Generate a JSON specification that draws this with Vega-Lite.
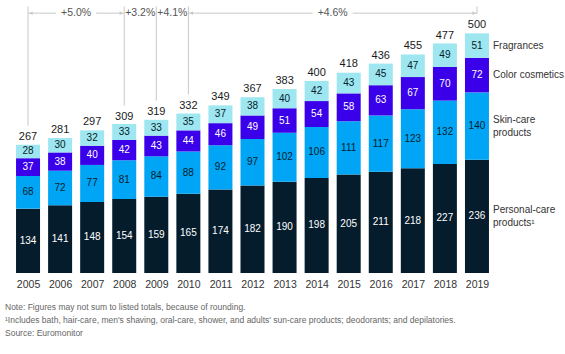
{
  "$schema": "https://vega.github.io/schema/vega-lite/v6.json",
  "width": 491,
  "height": 268,
  "autosize": {"type": "none"},
  "padding": {"left": 7, "top": 5, "right": 67, "bottom": 81},
  "background": "white",
  "config": {
    "font": "Liberation Sans",
    "view": {"stroke": null},
    "axisX": {"labelOverlap": false, "title": null, "domain": false, "ticks": false, "grid": false, "labelPadding": 6, "labelFontSize": 10.5, "labelColor": "#333333", "labelFont": "Liberation Sans"}
  },
  "datasets": {
    "market": [
      {"year": 2005, "Personal-care": 134, "Skin-care": 68, "Color cosmetics": 37, "Fragrances": 28, "total": 267},
      {"year": 2006, "Personal-care": 141, "Skin-care": 72, "Color cosmetics": 38, "Fragrances": 30, "total": 281},
      {"year": 2007, "Personal-care": 148, "Skin-care": 77, "Color cosmetics": 40, "Fragrances": 32, "total": 297},
      {"year": 2008, "Personal-care": 154, "Skin-care": 81, "Color cosmetics": 42, "Fragrances": 33, "total": 309},
      {"year": 2009, "Personal-care": 159, "Skin-care": 84, "Color cosmetics": 43, "Fragrances": 33, "total": 319},
      {"year": 2010, "Personal-care": 165, "Skin-care": 88, "Color cosmetics": 44, "Fragrances": 35, "total": 332},
      {"year": 2011, "Personal-care": 174, "Skin-care": 92, "Color cosmetics": 46, "Fragrances": 37, "total": 349},
      {"year": 2012, "Personal-care": 182, "Skin-care": 97, "Color cosmetics": 49, "Fragrances": 38, "total": 367},
      {"year": 2013, "Personal-care": 190, "Skin-care": 102, "Color cosmetics": 51, "Fragrances": 40, "total": 383},
      {"year": 2014, "Personal-care": 198, "Skin-care": 106, "Color cosmetics": 54, "Fragrances": 42, "total": 400},
      {"year": 2015, "Personal-care": 205, "Skin-care": 111, "Color cosmetics": 58, "Fragrances": 43, "total": 418},
      {"year": 2016, "Personal-care": 211, "Skin-care": 117, "Color cosmetics": 63, "Fragrances": 45, "total": 436},
      {"year": 2017, "Personal-care": 218, "Skin-care": 123, "Color cosmetics": 67, "Fragrances": 47, "total": 455},
      {"year": 2018, "Personal-care": 227, "Skin-care": 132, "Color cosmetics": 70, "Fragrances": 49, "total": 477},
      {"year": 2019, "Personal-care": 236, "Skin-care": 140, "Color cosmetics": 72, "Fragrances": 51, "total": 500}
    ],
    "labels": [
      {"category": "Fragrances", "label": "Fragrances"},
      {"category": "Color cosmetics", "label": "Color cosmetics"},
      {"category": "Skin-care", "label": "Skin-care\nproducts"},
      {"category": "Personal-care", "label": "Personal-care\nproducts¹"}
    ],
    "cagr": [
      {"start": 2005, "end": 2008, "label": "+5.0%"},
      {"start": 2008, "end": 2009, "label": "+3.2%"},
      {"start": 2009, "end": 2010, "label": "+4.1%"},
      {"start": 2010, "end": 2019, "label": "+4.6%"}
    ]
  },
  "title": {
    "text": [
      "\u00a0Note: Figures may not sum to listed totals, because of rounding.",
      "¹Includes bath, hair-care, men's shaving, oral-care, shower, and adults' sun-care products; deodorants; and depilatories.",
      "\u00a0Source: Euromonitor"
    ],
    "orient": "bottom",
    "anchor": "start",
    "frame": "group",
    "offset": 13,
    "dx": -2,
    "fontSize": 8.5,
    "fontWeight": "normal",
    "color": "#666666",
    "lineHeight": 13,
    "font": "Liberation Sans"
  },
  "layer": [
    {
      "data": {"name": "market"},
      "transform": [
        {"fold": ["Personal-care", "Skin-care", "Color cosmetics", "Fragrances"], "as": ["category", "value"]},
        {"calculate": "indexof(['Personal-care','Skin-care','Color cosmetics','Fragrances'], datum.category)", "as": "ord"},
        {"stack": "value", "groupby": ["year"], "sort": [{"field": "ord", "order": "ascending"}], "as": ["y0", "y1"]},
        {"calculate": "(datum.y0 + datum.y1) / 2", "as": "mid"}
      ],
      "layer": [
        {
          "mark": {"type": "bar", "size": 24},
          "encoding": {
            "x": {
              "field": "year", "type": "quantitative",
              "scale": {"domain": [2004.5, 2019.5], "nice": false, "zero": false},
              "axis": {"values": [2005, 2006, 2007, 2008, 2009, 2010, 2011, 2012, 2013, 2014, 2015, 2016, 2017, 2018, 2019], "format": "d", "labelOverlap": false}
            },
            "y": {"field": "y0", "type": "quantitative", "scale": {"domain": [0, 558], "nice": false}, "axis": null},
            "y2": {"field": "y1"},
            "color": {
              "field": "category", "type": "nominal",
              "scale": {
                "domain": ["Personal-care", "Skin-care", "Color cosmetics", "Fragrances"],
                "range": ["#051C2C", "#00A5F5", "#3A00EA", "#9EE6F0"]
              },
              "legend": null
            }
          }
        },
        {
          "mark": {"type": "text", "fontSize": 10, "baseline": "middle"},
          "encoding": {
            "x": {"field": "year", "type": "quantitative", "axis": {"values": [2005, 2006, 2007, 2008, 2009, 2010, 2011, 2012, 2013, 2014, 2015, 2016, 2017, 2018, 2019], "format": "d", "labelOverlap": false}},
            "y": {"field": "mid", "type": "quantitative"},
            "text": {"field": "value", "type": "quantitative"},
            "color": {
              "condition": {"test": "datum.category === 'Personal-care' || datum.category === 'Color cosmetics'", "value": "#ffffff"},
              "value": "#051C2C"
            }
          }
        },
        {
          "transform": [{"filter": "datum.category === 'Fragrances'"}],
          "mark": {"type": "text", "fontSize": 11, "baseline": "bottom", "dy": -3, "color": "#1a1a1a"},
          "encoding": {
            "x": {"field": "year", "type": "quantitative", "axis": {"values": [2005, 2006, 2007, 2008, 2009, 2010, 2011, 2012, 2013, 2014, 2015, 2016, 2017, 2018, 2019], "format": "d", "labelOverlap": false}},
            "y": {"field": "total", "type": "quantitative"},
            "text": {"field": "total", "type": "quantitative"}
          }
        },
        {
          "transform": [
            {"filter": "datum.year === 2019 && (datum.category === 'Fragrances' || datum.category === 'Color cosmetics')"},
            {"lookup": "category", "from": {"data": {"name": "labels"}, "key": "category", "fields": ["label"]}}
          ],
          "mark": {"type": "text", "fontSize": 10, "align": "left", "baseline": "middle", "dx": 16, "color": "#333333"},
          "encoding": {
            "x": {"field": "year", "type": "quantitative", "axis": {"values": [2005, 2006, 2007, 2008, 2009, 2010, 2011, 2012, 2013, 2014, 2015, 2016, 2017, 2018, 2019], "format": "d", "labelOverlap": false}},
            "y": {"field": "mid", "type": "quantitative"},
            "text": {"field": "label", "type": "nominal"}
          }
        },
        {
          "transform": [
            {"filter": "datum.year === 2019 && (datum.category === 'Skin-care' || datum.category === 'Personal-care')"},
            {"lookup": "category", "from": {"data": {"name": "labels"}, "key": "category", "fields": ["label"]}}
          ],
          "mark": {"type": "text", "fontSize": 10, "align": "left", "baseline": "middle", "dx": 16, "dy": -6, "lineBreak": "\n", "lineHeight": 13, "color": "#333333"},
          "encoding": {
            "x": {"field": "year", "type": "quantitative", "axis": {"values": [2005, 2006, 2007, 2008, 2009, 2010, 2011, 2012, 2013, 2014, 2015, 2016, 2017, 2018, 2019], "format": "d", "labelOverlap": false}},
            "y": {"field": "mid", "type": "quantitative"},
            "text": {"field": "label", "type": "nominal"}
          }
        }
      ]
    },
    {
      "data": {"name": "market"},
      "transform": [{"filter": "indexof([2005, 2008, 2009, 2010, 2019], datum.year) >= 0"}],
      "mark": {"type": "rule", "color": "#c8c8c8", "strokeWidth": 1, "yOffset": -19},
      "encoding": {
        "x": {"field": "year", "type": "quantitative", "axis": {"values": [2005, 2006, 2007, 2008, 2009, 2010, 2011, 2012, 2013, 2014, 2015, 2016, 2017, 2018, 2019], "format": "d", "labelOverlap": false}},
        "y": {"field": "total", "type": "quantitative"},
        "y2": {"datum": 555}
      }
    },
    {
      "data": {"name": "cagr"},
      "transform": [{"calculate": "(datum.start + datum.end) / 2", "as": "mid"}],
      "layer": [
        {
          "mark": {"type": "text", "fontSize": 10.5, "baseline": "middle", "color": "#555555"},
          "encoding": {
            "x": {"field": "mid", "type": "quantitative", "axis": {"values": [2005, 2006, 2007, 2008, 2009, 2010, 2011, 2012, 2013, 2014, 2015, 2016, 2017, 2018, 2019], "format": "d", "labelOverlap": false}},
            "y": {"datum": 541},
            "text": {"field": "label", "type": "nominal"}
          }
        },
        {
          "transform": [{"filter": "datum.end - datum.start > 1"}],
          "mark": {"type": "rule", "color": "#c8c8c8", "strokeWidth": 1, "x2Offset": -20},
          "encoding": {
            "x": {"field": "start", "type": "quantitative", "axis": {"values": [2005, 2006, 2007, 2008, 2009, 2010, 2011, 2012, 2013, 2014, 2015, 2016, 2017, 2018, 2019], "format": "d", "labelOverlap": false}},
            "x2": {"field": "mid"},
            "y": {"datum": 541}
          }
        },
        {
          "transform": [{"filter": "datum.end - datum.start > 1"}],
          "mark": {"type": "rule", "color": "#c8c8c8", "strokeWidth": 1, "xOffset": 20},
          "encoding": {
            "x": {"field": "mid", "type": "quantitative", "axis": {"values": [2005, 2006, 2007, 2008, 2009, 2010, 2011, 2012, 2013, 2014, 2015, 2016, 2017, 2018, 2019], "format": "d", "labelOverlap": false}},
            "x2": {"field": "end"},
            "y": {"datum": 541}
          }
        },
        {
          "transform": [{"filter": "datum.end - datum.start > 1"}],
          "mark": {"type": "point", "shape": "triangle-left", "filled": true, "size": 14, "color": "#c8c8c8", "opacity": 1, "xOffset": 3},
          "encoding": {
            "x": {"field": "start", "type": "quantitative", "axis": {"values": [2005, 2006, 2007, 2008, 2009, 2010, 2011, 2012, 2013, 2014, 2015, 2016, 2017, 2018, 2019], "format": "d", "labelOverlap": false}},
            "y": {"datum": 541}
          }
        },
        {
          "transform": [{"filter": "datum.end - datum.start > 1"}],
          "mark": {"type": "point", "shape": "triangle-right", "filled": true, "size": 14, "color": "#c8c8c8", "opacity": 1, "xOffset": -3},
          "encoding": {
            "x": {"field": "end", "type": "quantitative", "axis": {"values": [2005, 2006, 2007, 2008, 2009, 2010, 2011, 2012, 2013, 2014, 2015, 2016, 2017, 2018, 2019], "format": "d", "labelOverlap": false}},
            "y": {"datum": 541}
          }
        }
      ]
    }
  ]
}
